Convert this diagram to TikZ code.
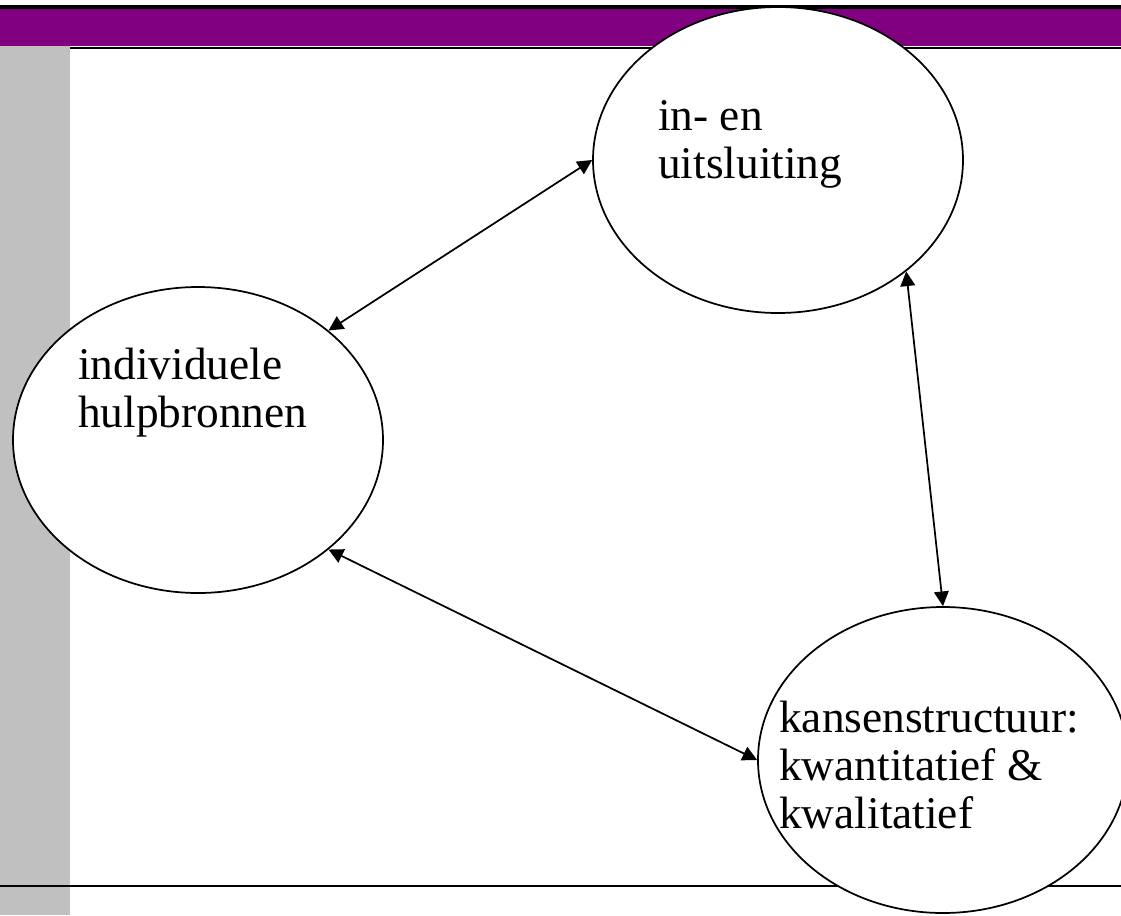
\documentclass[tikz,border=0pt]{standalone}
\usepackage{fontspec}
\setmainfont{Liberation Serif}
\usetikzlibrary{arrows.meta, shapes.geometric}
\definecolor{SlidePurple}{RGB}{128, 0, 128}
\definecolor{PanelGray}{RGB}{192, 192, 192}

\begin{document}
\begin{tikzpicture}[
    x=0.75pt, y=-0.75pt,
    bubble/.style={draw, ellipse, fill=white, line width=1.3pt, inner sep=0pt,
        minimum width=277.5pt, minimum height=229.5pt},
    bubbletext/.style={anchor=base west, align=left, inner sep=0pt,
        font=\fontsize{34}{36}\selectfont},
    link/.style={{Triangle[length=11pt, width=11pt]}-{Triangle[length=11pt, width=11pt]}, line width=1.3pt}
]
\useasboundingbox (0,0) rectangle (1121,915);
\fill[white] (0,0) rectangle (1121,915);
% Title band
\fill[SlidePurple] (0,9) rectangle (1121,46);
\fill[black] (0,5) rectangle (1121,9);
% Side panel
\fill[PanelGray] (0,46) rectangle (70,915);
\draw[black, line width=1.5pt] (70,47.5) -- (1121,47.5);
\draw[black, line width=1.5pt] (0,886) -- (1121,886);
% Ellipses
\node[bubble] (inuit) at (778,160) {};
\node[bubble] (ind) at (198,440) {};
\node[bubble] (kans) at (943,760) {};
% Texts (anchored at the baseline of the last line)
\node[bubbletext] (inuittxt) at (658,178) {in- en\\uitsluiting};
\node[bubbletext] (indtxt) at (78,427) {individuele\\hulpbronnen};
\node[bubbletext] (kanstxt) at (779,828) {kansenstructuur:\\kwantitatief \&\\kwalitatief};
% Connections
\draw[link] (ind.40) -- (inuit.180);
\draw[link] (ind.-40) -- (kans.180);
\draw[link] (inuit.-41) -- (kans.90);
\end{tikzpicture}
\end{document}
